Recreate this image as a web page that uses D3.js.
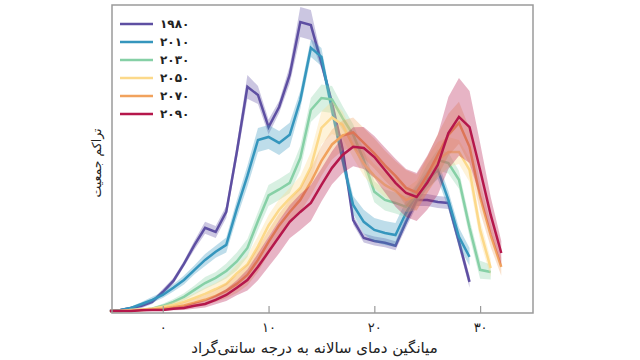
<!DOCTYPE html>
<html><head><meta charset="utf-8">
<script src="https://cdn.jsdelivr.net/npm/d3@7"></script>
<style>html,body{margin:0;padding:0;background:#fff;}svg{display:block;}</style>
</head><body><svg id="c" width="640" height="360"></svg>
<script>
// temperature grid (°C), index 0 = -5 ... index 37 = 32
const temps = [-5,-4,-3,-2,-1,0,1,2,3,4,5,6,7,8,9,10,11,12,13,14,15,16,17,18,19,20,21,22,23,24,25,26,27,28,29,30,31,32];
const years = ["۱۹۸۰","۲۰۱۰","۲۰۳۰","۲۰۵۰","۲۰۷۰","۲۰۹۰"];
const colors = ["#5e4fa2","#3596bd","#86d0a6","#fcd98a","#f1a25d","#b5174b"];
const xTicks = [0,10,20,30];
const xTickLabels = ["۰","۱۰","۲۰","۳۰"];
const xTitle = "میانگین دمای سالانه به درجه سانتی‌گراد";
const yTitle = "تراکم جمعیت";

const y1980 = [0,0.3,1,1.7,3,6.3,10,15.7,22,27.7,26.3,33,53,74.7,72,61.3,68,78.7,96.3,95.3,82.7,69.3,54,30.3,24.3,23.3,22.7,21.7,29.7,37,37,36.3,36,23,9.7,null,null,null];
const y2010 = [0,0.3,1,2.3,3.7,5.3,7.7,10.3,13.7,17,19.7,22,34,45,57,58,56,58.7,70.3,87.7,84.7,67,50.3,35.3,29.7,27,26,25.3,32.7,38.7,43.7,47,37,24.7,18,null,null,null];
const y2030 = [0,0,0.3,0.3,0.7,1.7,3,4.7,7,9.3,11,13.3,16.5,21,30,38.5,40.5,42.7,51,67,71,70.5,64.3,58.7,50.3,39.7,37,36,34.7,38.7,45.3,50.3,49.3,43.7,27.7,13.7,13,null];
const y2050 = [0,0,0.3,0.5,0.7,1.3,2,3,4.3,5.7,7.3,9,12.5,15.5,21.5,28.5,33.7,37.5,41,48,61,64.5,62,55,49,45,42,40,37,38.5,45.3,50.3,53,53,47,27,14.3,null];
const y2070 = [0,0,0,0.3,0.5,0.7,1.2,1.8,2.7,3.7,5,6.7,9,12,17,23,28.5,33,37,43,50,55.5,58.5,59.5,56,52.5,48.5,45,41,39.5,45.3,52,58.7,62.7,54.7,38,25.3,14.7];
const y2090 = [0,0,0,0.2,0.3,0.3,0.7,1,1.7,2.3,3.7,5.3,7.7,10.3,14.7,19.7,24.7,29.7,33,36,42,47.7,52,54.7,54.3,51.3,47,42.7,39.3,38,42.7,48.7,59.3,64.7,61.3,47,32,19.3];

const b1980 = [0,0.3,0.5,0.7,0.7,1,1,1,1.5,2,2,2,2.5,4,3,2.5,2,3,5,5,2,1.5,1.5,1.5,1.5,1.5,1.5,1.5,2,2,2,2,2,2,2,null,null,null];
const b2010 = [0,0.3,0.5,0.7,1,1,1.2,1.5,1.5,2,2,2.5,3,3.5,4,4,4,4,3,3,3,2.5,2.5,3,4,4,4,4,4,3,3,3,3,3,3,null,null,null];
const b2030 = [0,0,0.3,0.3,0.5,0.7,1,1.2,1.5,2,2,2.5,3,3,3,3.5,3.5,3.5,4,4,4.5,4.5,4,3.5,3.5,3.5,3.5,3.5,3.5,3.5,3.5,3.5,3.5,3,3,3,2.5,null];
const b2050 = [0,0,0.3,0.4,0.5,0.7,1,1.2,1.5,2,2,2.5,3,3,3.5,3.5,3.5,3.5,4,5,5.5,5.5,4.5,4,4,4,4,4,4,5,6,6,5,4,4,3.5,3,null];
const b2070 = [0,0,0,0.3,0.4,0.5,0.7,1,1.2,1.5,2,2.5,3,3.5,4,4,4,4,4,4.5,5,5,5,5,5,5,5,5,6,6,6,7,7,7,6,5,4,3];
const b2090 = [0,0,0,0.2,0.3,0.3,0.5,0.7,1,1.2,1.5,2,2.5,3.5,4.5,5,5.5,5.5,6,6,5.5,5.5,6,6.5,7,7,7.5,8,8,8,9,10,12,13,12,9,6,4];

const series = [y1980,y2010,y2030,y2050,y2070,y2090];
const bands = [b1980,b2010,b2030,b2050,b2070,b2090];

const svg = d3.select("#c");
const L=112, R=533, T=5, B=313;
const x = d3.scaleLinear().domain([-4.8,35]).range([L,R]);
const y = d3.scaleLinear().domain([-0.7,102]).range([B,T]);

const font = "'DejaVu Sans', 'Noto Sans', sans-serif";

// curves
series.forEach((vals,si)=>{
  const pts = temps.map((t,i)=>({t, v:vals[i], b:bands[si][i]})).filter(d=>d.v!=null);
  const area = d3.area().x(d=>x(d.t)).y0(d=>y(Math.max(0,d.v-d.b))).y1(d=>y(d.v+d.b));
  svg.append("path").attr("d",area(pts)).attr("fill",colors[si]).attr("fill-opacity",0.32).attr("stroke","none");
  const line = d3.line().x(d=>x(d.t)).y(d=>y(d.v));
  svg.append("path").attr("d",line(pts)).attr("fill","none").attr("stroke",colors[si])
    .attr("stroke-width",2.5).attr("stroke-linejoin","miter");
});

// frame
svg.append("rect").attr("x",L).attr("y",T).attr("width",R-L).attr("height",B-T)
  .attr("fill","none").attr("stroke","#9a9a9a").attr("stroke-width",1.5);

// x axis ticks (inner) and labels
const ax = svg.append("g").attr("transform",`translate(0,${B})`)
  .call(d3.axisBottom(x).tickValues(xTicks).tickSizeInner(-7).tickSizeOuter(0).tickPadding(10)
    .tickFormat((d,i)=>xTickLabels[i]));
ax.select(".domain").remove();
ax.selectAll(".tick line").attr("stroke","#9a9a9a").attr("stroke-width",1.2);
ax.selectAll(".tick text").attr("fill","#222").style("font-family",font).style("font-size","13px");

// axis titles (centred by measured width to avoid bidi anchor shifts)
function centred(sel, cx){
  const w = sel.node().getComputedTextLength();
  sel.attr("text-anchor","start").attr("x", cx - w/2);
}
const xt = svg.append("text").attr("y",353).attr("direction","ltr")
  .style("font-family",font).style("font-size","15px").attr("fill","#222").text(xTitle);
centred(xt,(L+R)/2 - 8);
const ytG = svg.append("g").attr("transform",`translate(101,${(T+B)/2}) rotate(-90)`);
const yt = ytG.append("text").attr("y",0)
  .style("font-family",font).style("font-size","12.5px").attr("fill","#222").text(yTitle);
centred(yt,-4);

// legend
const lg = svg.append("g");
years.forEach((yr,i)=>{
  const yy = 24 + i*18;
  lg.append("line").attr("x1",120).attr("x2",153).attr("y1",yy).attr("y2",yy)
    .attr("stroke",colors[i]).attr("stroke-width",2.5);
  lg.append("text").attr("x",160).attr("y",yy+4).style("font-family",font).style("font-size","12px")
    .style("font-weight","bold").attr("fill","#222").text(yr);
});
</script></body></html>
